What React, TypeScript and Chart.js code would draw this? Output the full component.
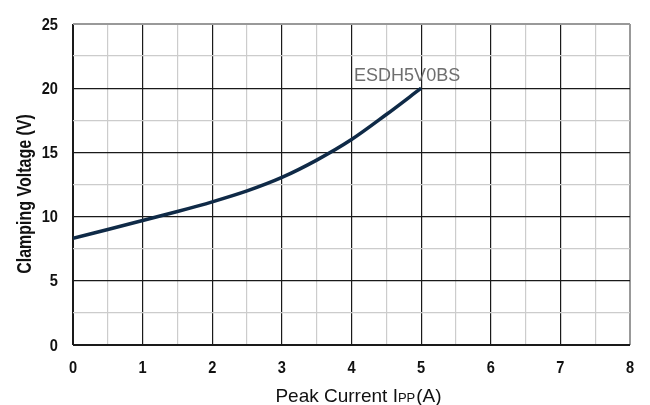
import { useEffect, useRef } from "react";
import { Chart, registerables } from "chart.js";

Chart.register(...registerables);

const currentA = [0, 0.5, 1, 1.5, 2, 2.5, 3, 3.5, 4, 4.5, 5];
const clampV = [8.3, 9.0, 9.7, 10.4, 11.15, 12.0, 13.05, 14.4, 16.0, 17.95, 20.0];
const xTickLabels = ["0", "1", "2", "3", "4", "5", "6", "7", "8"];
const yTickLabels = ["0", "5", "10", "15", "20", "25"];
const seriesName = "ESDH5V0BS";
const yTitle = "Clamping Voltage (V)";
const xTitleParts = ["Peak Current I", "PP", "(A)"];

const SANS = "'Liberation Sans', Arial, sans-serif";
const NARROW_SCALE = 0.82;

function narrowText(ctx: CanvasRenderingContext2D, text: string, x: number, y: number, s: number) {
  ctx.save();
  ctx.translate(x, y);
  ctx.scale(s, 1);
  ctx.fillText(text, 0, 0);
  ctx.restore();
}

const textPlugin = {
  id: "texts",
  afterDraw(chart: any) {
    const ctx = chart.ctx as CanvasRenderingContext2D;
    const xs = chart.scales.x;
    const ys = chart.scales.y;
    ctx.save();

    // tick labels (narrow bold)
    ctx.fillStyle = "#111";
    ctx.font = `bold 17px ${SANS}`;
    ctx.textBaseline = "middle";
    ctx.textAlign = "center";
    xs.ticks.forEach((t: any) => {
      const v = t.value;
      if (!Number.isInteger(v)) return;
      narrowText(ctx, xTickLabels[v], xs.getPixelForValue(v), chart.chartArea.bottom + 23, 0.86);
    });
    ctx.textAlign = "right";
    ys.ticks.forEach((t: any) => {
      const v = t.value;
      if (v % 5 !== 0) return;
      narrowText(ctx, yTickLabels[v / 5], chart.chartArea.left - 15, ys.getPixelForValue(v) + 1, 0.86);
    });

    // annotation
    ctx.fillStyle = "#6e6e6e";
    ctx.font = `18px ${SANS}`;
    ctx.textAlign = "center";
    ctx.textBaseline = "alphabetic";
    ctx.fillText(seriesName, xs.getPixelForValue(5) - 14, ys.getPixelForValue(20) - 7);

    // x title with small PP
    ctx.fillStyle = "#111";
    const big = `19px ${SANS}`;
    const small = `13px ${SANS}`;
    ctx.font = big;
    const w0 = ctx.measureText(xTitleParts[0]).width;
    const w2 = ctx.measureText(xTitleParts[2]).width;
    ctx.font = small;
    const w1 = ctx.measureText(xTitleParts[1]).width + 1;
    const total = w0 + w1 + w2;
    const cx = (chart.chartArea.left + chart.chartArea.right) / 2 + 7;
    let x = cx - total / 2;
    const base = 402;
    ctx.textAlign = "left";
    ctx.font = big;
    ctx.fillText(xTitleParts[0], x, base);
    x += w0;
    ctx.font = small;
    ctx.fillText(xTitleParts[1], x, base);
    x += w1;
    ctx.font = big;
    ctx.fillText(xTitleParts[2], x, base);

    // y title (narrow bold, rotated)
    ctx.fillStyle = "#111";
    ctx.translate(26, 194);
    ctx.rotate(-Math.PI / 2);
    ctx.scale(NARROW_SCALE, 1);
    ctx.font = `bold 19.5px ${SANS}`;
    ctx.textAlign = "center";
    ctx.textBaseline = "middle";
    ctx.fillText(yTitle, 0, 0);
    ctx.restore();
  },
};

export default function App() {
  const ref = useRef<HTMLCanvasElement | null>(null);
  useEffect(() => {
    if (!ref.current) return;
    const chart = new Chart(ref.current, {
      type: "line",
      data: {
        datasets: [
          {
            label: seriesName,
            data: currentA.map((v, i) => ({ x: v, y: clampV[i] })),
            borderColor: "#0f2a47",
            borderWidth: 3.5,
            pointRadius: 0,
            cubicInterpolationMode: "monotone",
            fill: false,
          },
        ],
      },
      options: {
        animation: false,
        responsive: true,
        maintainAspectRatio: false,
        layout: { padding: { top: 24, right: 20, left: 0, bottom: 0 } },
        plugins: { legend: { display: false }, tooltip: { enabled: false } },
        scales: {
          x: {
            type: "linear",
            min: 0,
            max: 8,
            afterFit: (s: any) => {
              s.height = 60;
            },
            border: { display: false },
            grid: {
              drawTicks: false,
              color: (c: any) => {
                const v = c.tick?.value;
                if (v === 8) return "#999";
                return Number.isInteger(v) ? "#1a1a1a" : "#cccccc";
              },
              lineWidth: (c: any) => {
                const v = c.tick?.value;
                return v === 0 || v === 8 ? 2 : 1.2;
              },
            },
            ticks: {
              display: false,
              stepSize: 0.5,
              autoSkip: false,
              maxRotation: 0,
            },
          },
          y: {
            min: 0,
            max: 25,
            afterFit: (s: any) => {
              s.width = 73;
            },
            border: { display: false },
            grid: {
              drawTicks: false,
              color: (c: any) => {
                const v = c.tick?.value;
                if (v === 25) return "#999";
                return v % 5 === 0 ? "#1a1a1a" : "#cccccc";
              },
              lineWidth: (c: any) => {
                const v = c.tick?.value;
                return v === 0 || v === 25 ? 2 : 1.2;
              },
            },
            ticks: {
              display: false,
              stepSize: 2.5,
              autoSkip: false,
            },
          },
        },
      },
      plugins: [textPlugin],
    });
    return () => chart.destroy();
  }, []);
  return (
    <div style={{ position: "absolute", left: 0, top: 0, width: 650, height: 405, background: "#fff" }}>
      <canvas ref={ref} />
    </div>
  );
}
